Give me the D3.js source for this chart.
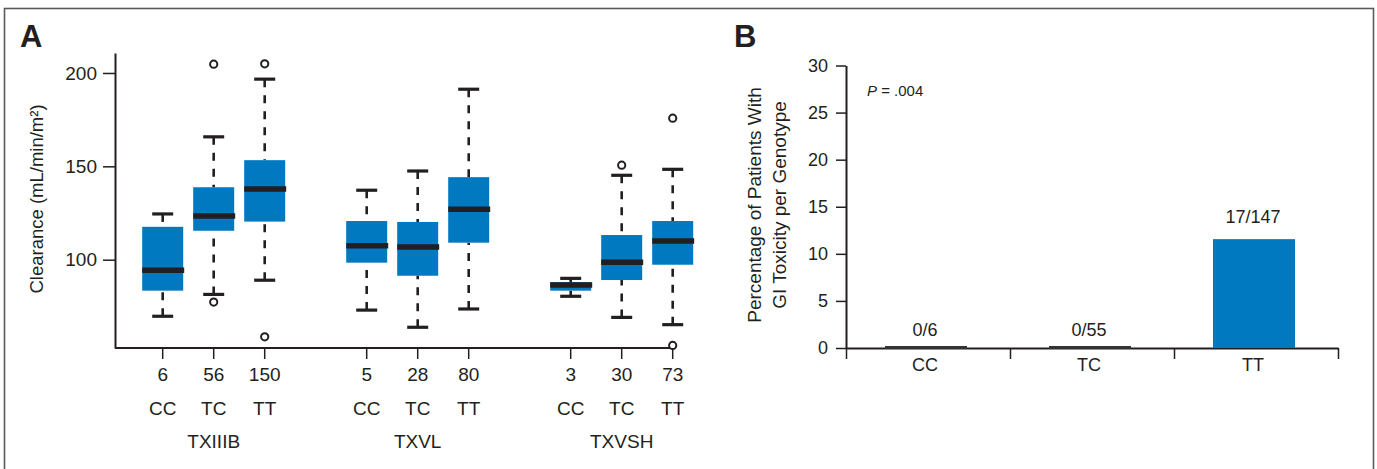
<!DOCTYPE html>
<html>
<head>
<meta charset="utf-8">
<script src="https://cdn.jsdelivr.net/npm/d3@7"></script>
<style>
  body { margin: 0; background: #fff; }
  text { font-family: "Liberation Sans", Arial, sans-serif; fill: #231f20; }
</style>
</head>
<body>
<div id="vis"></div>
<script>
const WIDTH = 1377;
const HEIGHT = 469;
const BLUE = "#0079c1";
const DARK = "#231f20";

// panel A data (box plots)
const groups = ["TXIIIB", "TXVL", "TXVSH"];
const genotypes = ["CC", "TC", "TT"];
const counts = [6, 56, 150, 5, 28, 80, 3, 30, 73];
const whiskerLow = [69.7, 81.4, 89.0, 73.0, 63.8, 73.6, 80.4, 69.1, 65.2];
const q1 = [83.4, 115.5, 120.4, 98.4, 91.4, 109.1, 83.4, 89.1, 97.3];
const medians = [94.3, 123.4, 137.9, 107.5, 106.8, 127.0, 86.4, 98.6, 110.0];
const q3 = [117.6, 138.8, 153.3, 120.7, 120.2, 144.2, 88.0, 113.2, 120.7];
const whiskerHigh = [124.5, 165.8, 196.7, 137.2, 147.5, 191.3, 90.0, 145.2, 148.4];
const outliers = [[], [204.7, 77.3], [204.9, 58.7], [], [], [], [], [150.6], [175.8, 54.1]];
const clearanceTicks = [100, 150, 200];

// panel B data (bar chart)
const barCategories = ["CC", "TC", "TT"];
const toxPercent = [0, 0, 11.56];
const toxLabels = ["0/6", "0/55", "17/147"];
const percentTicks = [0, 5, 10, 15, 20, 25, 30];

const svg = d3.select("#vis")
  .append("svg")
    .attr("width", WIDTH)
    .attr("height", HEIGHT);

// outer frame
svg.append("rect")
  .attr("x", 4.5).attr("y", 8.5)
  .attr("width", 1369).attr("height", 470)
  .attr("fill", "none")
  .attr("stroke", "#5a5a5a")
  .attr("stroke-width", 1.6);

// ---------- panel A ----------
const A = {left: 115, top: 53, bottom: 348};

const yA = d3.scaleLinear().domain([52.7, 210.7]).range([A.bottom, A.top]);
// slot positions: 3 boxes per group with one empty slot between groups
const xA = d3.scaleLinear().domain([1, 11]).range([162.7, 672.7]);
const slotOf = (i) => Math.floor(i / 3) * 4 + (i % 3) + 1;

svg.append("text")
  .attr("x", 20).attr("y", 47)
  .attr("font-size", 31).attr("font-weight", "bold")
  .text("A");

const yAxisA = svg.append("g")
  .attr("transform", "translate(" + A.left + ",0)")
  .call(d3.axisLeft(yA).tickValues(clearanceTicks).tickSize(12).tickSizeOuter(0).tickPadding(6));
yAxisA.selectAll("text").attr("font-size", 19).attr("fill", DARK);

// x axis line + ticks
svg.append("line")
  .attr("x1", A.left).attr("x2", xA(11))
  .attr("y1", A.bottom).attr("y2", A.bottom)
  .attr("stroke", DARK).attr("stroke-width", 2);

const slots = counts.map((d, i) => slotOf(i));

svg.selectAll(".xtickA")
  .data(slots)
  .enter()
  .append("line")
    .attr("x1", d => xA(d)).attr("x2", d => xA(d))
    .attr("y1", A.bottom).attr("y2", A.bottom + 11)
    .attr("stroke", DARK).attr("stroke-width", 1.5);

svg.selectAll(".countA")
  .data(counts)
  .enter()
  .append("text")
    .attr("x", (d, i) => xA(slotOf(i)))
    .attr("y", 381)
    .attr("text-anchor", "middle")
    .attr("font-size", 19)
    .text(d => d);

svg.selectAll(".genoA")
  .data(counts)
  .enter()
  .append("text")
    .attr("x", (d, i) => xA(slotOf(i)))
    .attr("y", 415)
    .attr("text-anchor", "middle")
    .attr("font-size", 19)
    .text((d, i) => genotypes[i % 3]);

svg.selectAll(".groupA")
  .data(groups)
  .enter()
  .append("text")
    .attr("x", (d, g) => xA(g * 4 + 2))
    .attr("y", 448)
    .attr("text-anchor", "middle")
    .attr("font-size", 19)
    .text(d => d);

svg.append("text")
  .attr("transform", "translate(43,199) rotate(-90)")
  .attr("text-anchor", "middle")
  .attr("font-size", 18.5)
  .text("Clearance (mL/min/m\u00b2)");

// boxes
const BOX_W = 41;
const CAP_W = 21;
const boxes = svg.append("g");

counts.forEach((n, i) => {
  const cx = xA(slotOf(i));
  // whiskers
  boxes.append("line")
    .attr("x1", cx).attr("x2", cx)
    .attr("y1", yA(whiskerHigh[i])).attr("y2", yA(q3[i]))
    .attr("stroke", DARK).attr("stroke-width", 2.6)
    .attr("stroke-dasharray", "8,8");
  boxes.append("line")
    .attr("x1", cx).attr("x2", cx)
    .attr("y1", yA(whiskerLow[i])).attr("y2", yA(q1[i]))
    .attr("stroke", DARK).attr("stroke-width", 2.6)
    .attr("stroke-dasharray", "8,8");
  [whiskerHigh[i], whiskerLow[i]].forEach(v => {
    boxes.append("line")
      .attr("x1", cx - CAP_W / 2).attr("x2", cx + CAP_W / 2)
      .attr("y1", yA(v)).attr("y2", yA(v))
      .attr("stroke", DARK).attr("stroke-width", 3.2);
  });
  boxes.append("rect")
    .attr("x", cx - BOX_W / 2)
    .attr("y", yA(q3[i]))
    .attr("width", BOX_W)
    .attr("height", yA(q1[i]) - yA(q3[i]))
    .attr("fill", BLUE);
  boxes.append("line")
    .attr("x1", cx - BOX_W / 2).attr("x2", cx + BOX_W / 2 + 1)
    .attr("y1", yA(medians[i])).attr("y2", yA(medians[i]))
    .attr("stroke", DARK).attr("stroke-width", 5.5);
  outliers[i].forEach(v => {
    boxes.append("circle")
      .attr("cx", cx).attr("cy", yA(v))
      .attr("r", 3.6)
      .attr("fill", "#fff")
      .attr("stroke", DARK).attr("stroke-width", 2);
  });
});

// ---------- panel B ----------
const B = {left: 846, right: 1338, top: 65.5, bottom: 348};

const yB = d3.scaleLinear().domain([0, 30]).range([B.bottom, B.top]);
const xB = d3.scaleBand().domain(barCategories).range([B.left, B.right]);
const xEdges = d3.scaleLinear().domain([0, 3]).range([B.left, B.right]);

svg.append("text")
  .attr("x", 734).attr("y", 47)
  .attr("font-size", 31).attr("font-weight", "bold")
  .text("B");

const yAxisB = svg.append("g")
  .attr("transform", "translate(" + B.left + ",0)")
  .call(d3.axisLeft(yB).tickValues(percentTicks).tickSize(10).tickSizeOuter(0).tickPadding(8));
yAxisB.selectAll("text").attr("font-size", 18).attr("fill", DARK);

const xAxisB = svg.append("g")
  .attr("transform", "translate(0," + B.bottom + ")")
  .call(d3.axisBottom(xEdges).tickValues([0, 1, 2, 3]).tickSize(11).tickSizeOuter(0).tickFormat(""));

[yAxisA, yAxisB, xAxisB].forEach(ax => {
  ax.select(".domain").attr("stroke", DARK).attr("stroke-width", 2);
  ax.selectAll(".tick line").attr("stroke", DARK).attr("stroke-width", 1.5);
});

svg.selectAll(".bar")
  .data(toxPercent)
  .enter()
  .append("rect")
    .attr("x", (d, i) => xB(barCategories[i]) + xB.bandwidth() * 0.25 - 2)
    .attr("y", d => yB(d))
    .attr("width", xB.bandwidth() * 0.5)
    .attr("height", d => yB(0) - yB(d))
    .attr("fill", BLUE);

// zero-height bars drawn as a dark rule on the baseline
svg.selectAll(".zerobar")
  .data(toxPercent.map((d, i) => ({v: d, c: barCategories[i]})).filter(d => d.v === 0))
  .enter()
  .append("line")
    .attr("x1", d => xB(d.c) + xB.bandwidth() * 0.25 - 2)
    .attr("x2", d => xB(d.c) + xB.bandwidth() * 0.75 - 2)
    .attr("y1", d => yB(d.v) - 0.5).attr("y2", d => yB(d.v) - 0.5)
    .attr("stroke", "#333").attr("stroke-width", 3);

svg.selectAll(".barlabel")
  .data(toxLabels)
  .enter()
  .append("text")
    .attr("x", (d, i) => xB(barCategories[i]) + xB.bandwidth() / 2 - 3)
    .attr("y", (d, i) => yB(toxPercent[i]) - (toxPercent[i] > 0 ? 16 : 12))
    .attr("text-anchor", "middle")
    .attr("font-size", 18)
    .text(d => d);

svg.selectAll(".catB")
  .data(barCategories)
  .enter()
  .append("text")
    .attr("x", d => xB(d) + xB.bandwidth() / 2 - 3)
    .attr("y", 371)
    .attr("text-anchor", "middle")
    .attr("font-size", 18)
    .text(d => d);

const pText = svg.append("text")
  .attr("x", 867).attr("y", 96)
  .attr("font-size", 15);
pText.append("tspan").attr("font-style", "italic").text("P");
pText.append("tspan").text(" = .004");

const yLabB = svg.append("text")
  .attr("transform", "translate(761,205) rotate(-90)")
  .attr("text-anchor", "middle")
  .attr("font-size", 19);
yLabB.append("tspan").attr("x", 0).attr("dy", 0).text("Percentage of Patients With");
yLabB.append("tspan").attr("x", 0).attr("dy", 25).text("GI Toxicity per Genotype");
</script>
</body>
</html>
